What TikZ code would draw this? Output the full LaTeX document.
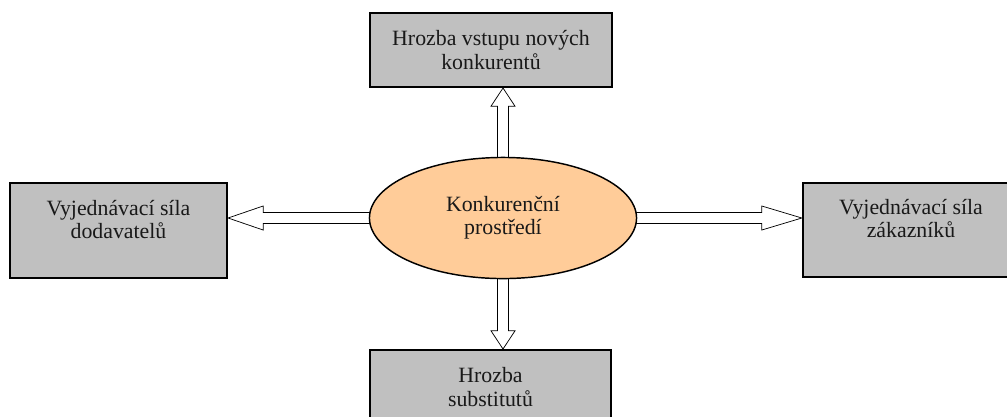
\documentclass[tikz,border=0pt]{standalone}
\usepackage{fontspec}
\setmainfont{Liberation Serif}
\usepackage{tikz}
\usetikzlibrary{shapes.geometric, calc, backgrounds}
\definecolor{boxgray}{RGB}{192,192,192}
\definecolor{corefill}{RGB}{255,204,153}
\tikzset{
  every picture/.style={line width=0.75pt},
  force box/.style={draw=black, line width=1.1pt, fill=boxgray, align=center, inner sep=0,
    font=\fontsize{12}{12.7}\selectfont, text=black!90},
  force core/.style={ellipse, draw=black, line width=0.8pt, fill=corefill, inner sep=0,
    minimum width=146.9pt, minimum height=66.6pt, align=center,
    font=\fontsize{12}{12.7}\selectfont, text=black!90},
  fatarrow/.style={draw=black, fill=white, line width=0.7pt, line join=miter,
    to path={
      ($(\tikztostart)!3pt!90:(\tikztotarget)$)
      -- ($(\tikztotarget)!#1!(\tikztostart)!3pt!-90:(\tikztostart)$)
      -- ($(\tikztotarget)!#1!(\tikztostart)!6.6pt!-90:(\tikztostart)$)
      -- (\tikztotarget)
      -- ($(\tikztotarget)!#1!(\tikztostart)!6.6pt!90:(\tikztostart)$)
      -- ($(\tikztotarget)!#1!(\tikztostart)!3pt!90:(\tikztostart)$)
      -- ($(\tikztostart)!3pt!-90:(\tikztotarget)$) -- cycle}},
  fatarrow/.default=19pt
}
\begin{document}
\begin{tikzpicture}[x=0.55pt, y=-0.55pt]
  \useasboundingbox (0,0) rectangle (1007,416);

  % Centre
  \node[force core] (core) at (503,218) {Konkurenční\\prostředí};

  % Five forces
  \node[force box, minimum width=133.1pt, minimum height=40.7pt] (entrant) at (491,50)
    {Hrozba vstupu nových\\konkurentů};
  \node[force box, minimum width=119.4pt, minimum height=52.3pt] (supp) at (118.5,230.5)
    {Vyjednávací síla\\dodavatelů\\\mbox{}};
  \node[force box, minimum width=119pt, minimum height=51.8pt] (cust) at (911,230)
    {Vyjednávací síla\\zákazníků\\\mbox{}};
  \node[force box, minimum width=132.6pt, minimum height=40.7pt] (subst) at (490.5,387)
    {Hrozba\\substitutů};

  % Arrow tips on the box edges
  \coordinate (entranttip) at (core.center |- entrant.south);
  \coordinate (substtip) at (core.center |- subst.north);
  \coordinate (supptip) at (supp.east |- core.center);
  \coordinate (custtip) at (cust.west |- core.center);

  % Arrows
  \begin{scope}[on background layer]
    \draw (core.center) to[fatarrow=10pt] (entranttip);
    \draw (core.center) to[fatarrow=10pt] (substtip);
    \draw (core.center) to[fatarrow=19.3pt] (supptip);
    \draw (core.center) to[fatarrow=22pt] (custtip);
  \end{scope}
\end{tikzpicture}
\end{document}
